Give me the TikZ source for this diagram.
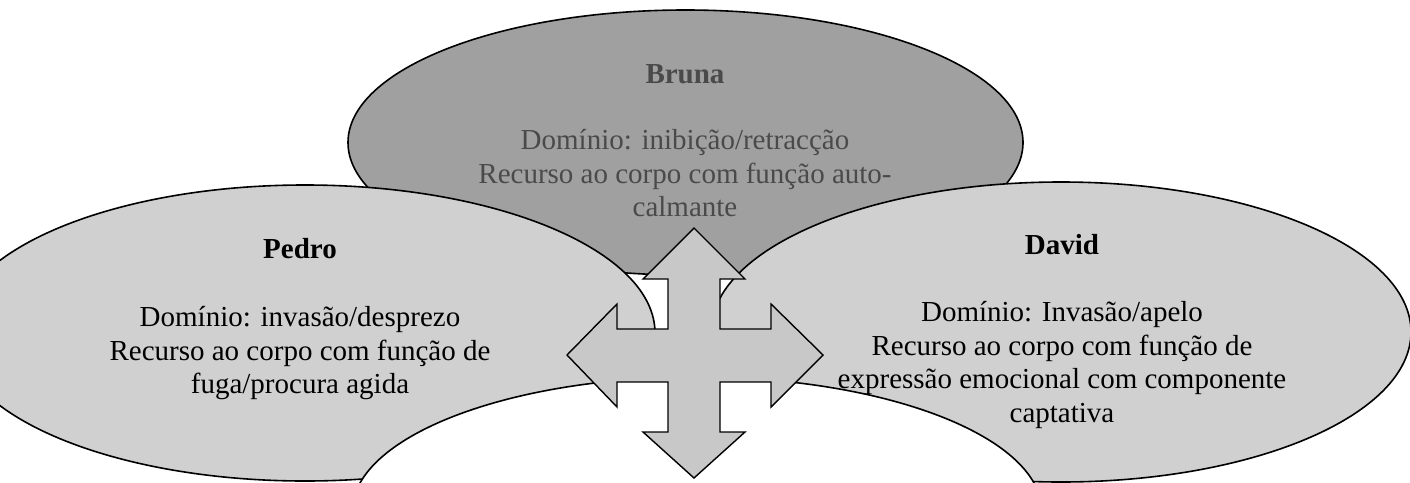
\documentclass[tikz,border=0pt]{standalone}
\usepackage{fontspec}
\setmainfont{Liberation Serif}
\usetikzlibrary{shapes.geometric}
\definecolor{darkfill}{HTML}{A0A0A0}
\definecolor{lightfill}{HTML}{D0D0D0}
\definecolor{arrowfill}{HTML}{C8C8C8}
\definecolor{brunatext}{HTML}{4A4A4A}
\begin{document}
\begin{tikzpicture}[x=1pt,y=-1pt,
  blob/.style={ellipse, draw=black, line width=1.6pt, inner sep=0pt},
  ttl/.style={font=\fontsize{29}{33.5}\selectfont\bfseries, inner sep=0pt, anchor=base},
  bodytext/.style={font=\fontsize{29}{33.5}\selectfont, align=center, inner sep=0pt, anchor=north},
  crossarrow/.style={draw=black, line width=1.4pt, fill=arrowfill, line join=miter}]
\clip (0,0) rectangle (1410,482);
\fill[white] (0,0) rectangle (1410,482);
% Bruna (top)
\node[blob, fill=darkfill, minimum width=675pt, minimum height=265pt] (bruna) at (685.5,142.5) {};
\node[ttl, text=brunatext] (brunaT) at (685,83.5) {Bruna};
\node[bodytext, text=brunatext] (brunaB) at (685,129.5) {Domínio: inibição/retracção\\Recurso ao corpo com função auto-\\calmante};
% Pedro (left)
\node[blob, fill=lightfill, minimum width=700pt, minimum height=296pt] (pedro) at (305,333) {};
\node[ttl] (pedroT) at (300,258.5) {Pedro};
\node[bodytext] (pedroB) at (300,306.5) {Domínio: invasão/desprezo\\Recurso ao corpo com função de\\fuga/procura agida};
% David (right)
\node[blob, fill=lightfill, minimum width=700pt, minimum height=300pt] (david) at (1061,332) {};
\node[ttl] (davidT) at (1062,254) {David};
\node[bodytext] (davidB) at (1062,301.5) {Domínio: Invasão/apelo\\Recurso ao corpo com função de\\expressão emocional com componente\\captativa};
% bottom (empty)
\node[blob, fill=white, minimum width=690pt, minimum height=270pt] (bottom) at (697,512) {};
% cross arrow
\draw[crossarrow] (694,228) -- (745,279) -- (720,279) -- (720,329) -- (771,329) -- (771,304)
  -- (823,355) -- (771,407) -- (771,382) -- (720,382) -- (720,432) -- (745,432)
  -- (694,478) -- (643,432) -- (668,432) -- (668,382) -- (617,382) -- (617,407)
  -- (567,355) -- (617,304) -- (617,329) -- (668,329) -- (668,279) -- (643,279) -- cycle;
\end{tikzpicture}
\end{document}
